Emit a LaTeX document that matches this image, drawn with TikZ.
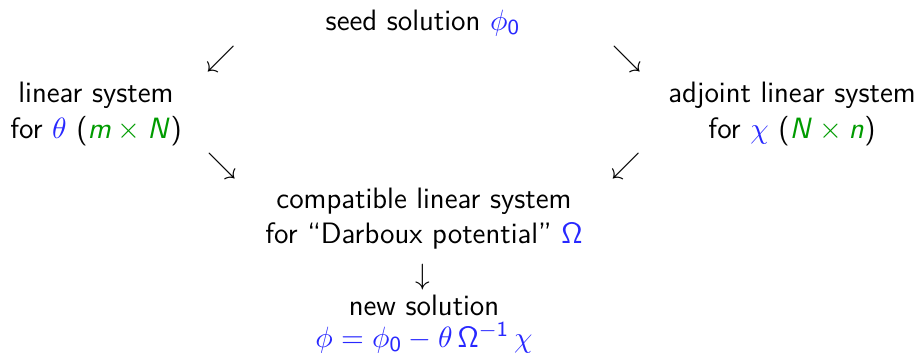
\documentclass[tikz,border=0pt]{standalone}
\usepackage{amsmath}
\DeclareMathAlphabet{\mathsfit}{OT1}{cmss}{m}{sl}
\definecolor{cblue}{RGB}{40,40,255}
\definecolor{cgreen}{RGB}{0,155,0}
\newcommand{\bl}[1]{{\color{cblue}#1}}
\newcommand{\gr}[1]{{\color{cgreen}#1}}
\begin{document}
\begin{tikzpicture}[x=0.373pt,y=-0.373pt,
  every node/.style={inner sep=0pt,outer sep=0pt,anchor=base,
    font=\fontsize{11}{13}\selectfont\sffamily,align=center},
  arrowglyph/.style={anchor=center,font=\fontsize{11}{13}\selectfont}]
\useasboundingbox (0,0) rectangle (920,360);
\node (seed) at (423,30) {seed solution $\bl{\phi_{\mathsf{0}}}$};
\node[arrowglyph] (a1) at (221,59) {$\swarrow$};
\node[arrowglyph] (a2) at (627,59) {$\searrow$};
\node (lin) at (96,138) {linear system\\[0.3pt]for $\bl{\theta}$ ($\gr{\mathsfit{m}\times\mathsfit{N}}$)};
\node (adj) at (792,138) {adjoint linear system\\[0.3pt]for $\bl{\chi}$ ($\gr{\mathsfit{N}\times\mathsfit{n}}$)};
\node[arrowglyph] (a3) at (222,166) {$\searrow$};
\node[arrowglyph] (a4) at (626,166) {$\swarrow$};
\node (comp) at (424,243) {compatible linear system\\[-0.3pt]for ``Darboux potential'' $\bl{\mathsf{\Omega}}$};
\node[arrowglyph] (a5) at (423,277) {$\downarrow$};
\node (new) at (424,347) {new solution\\[-1.2pt]$\bl{\phi=\phi_{\mathsf{0}}-\theta\,\mathsf{\Omega}^{-\mathsf{1}}\,\chi}$};
\end{tikzpicture}
\end{document}
